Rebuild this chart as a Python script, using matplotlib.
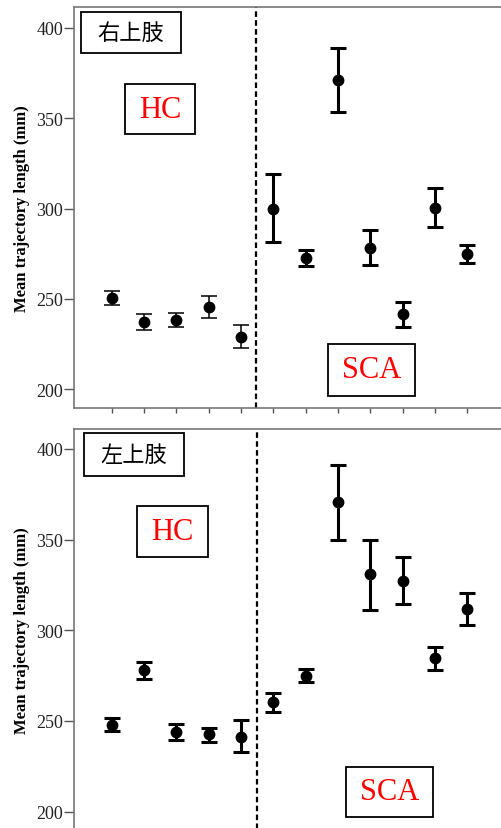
import matplotlib
matplotlib.use('Agg')
import matplotlib.pyplot as plt
from matplotlib.patches import Rectangle
import numpy as np

# subjects 1-5 are HC, 6-12 are SCA
subjects = [1, 2, 3, 4, 5, 6, 7, 8, 9, 10, 11, 12]

# right upper limb (mean, upper end, lower end of bars)
right_mean = [250.4, 237.0, 238.3, 245.2, 229.1, 300.0, 272.6, 371.1, 278.2, 241.7, 300.4, 275.0]
right_high = [254.4, 241.7, 242.0, 251.3, 235.6, 319.3, 276.8, 388.7, 288.0, 248.5, 311.1, 279.6]
right_low = [246.5, 232.8, 234.6, 239.3, 223.0, 281.3, 268.3, 353.2, 268.5, 234.6, 289.6, 269.8]

# left upper limb
left_mean = [248.0, 278.2, 243.8, 242.9, 241.4, 260.4, 275.0, 370.6, 331.1, 327.4, 284.6, 311.8]
left_high = [251.5, 282.4, 248.4, 246.2, 250.6, 265.7, 278.7, 391.4, 350.0, 340.3, 290.7, 320.5]
left_low = [244.4, 273.2, 239.6, 238.6, 232.8, 254.8, 271.4, 349.8, 311.2, 314.6, 278.2, 303.1]

yticks = [200, 250, 300, 350, 400]
n_hc = 5

fig = plt.figure(figsize=(5.02, 8.29), dpi=100)
ax1 = fig.add_axes([0.1474, 0.5066, 0.8546, 0.4837])
ax2 = fig.add_axes([0.1474, -0.0024, 0.8546, 0.4837])

serif = 'Liberation Serif'
cjk = ['Noto Sans CJK JP', 'DejaVu Sans']


def draw_panel(ax, mean, high, low, hc_lw, label, boxes, vline, ylim, show_xaxis):
    x = np.array(subjects)
    m = np.array(mean)
    err = [m - np.array(low), np.array(high) - m]
    # HC group
    ax.errorbar(x[:n_hc], m[:n_hc], yerr=[err[0][:n_hc], err[1][:n_hc]], fmt='o', color='black',
                ms=7.5, elinewidth=hc_lw, capsize=6, capthick=hc_lw)
    # SCA group
    ax.errorbar(x[n_hc:], m[n_hc:], yerr=[err[0][n_hc:], err[1][n_hc:]], fmt='o', color='black',
                ms=7.5, elinewidth=2.2, capsize=5.5, capthick=2.2)
    ax.axvline(vline, color='black', ls=(0, (2.5, 1.5)), lw=1.6)
    ax.set_xlim(-0.17, 13.1)
    ax.set_ylim(*ylim)
    ax.set_yticks(yticks)
    ax.set_yticklabels([str(t) for t in yticks], fontfamily=serif, fontsize=13, color='#222222')
    ax.tick_params(axis='y', length=7, width=1, color='#555555', pad=1)
    ax.set_xticks(subjects)
    ax.set_xticklabels([])
    ax.tick_params(axis='x', length=3.5, width=1, color='#555555')
    for s in ['left', 'top', 'bottom']:
        ax.spines[s].set_color('#777777')
        ax.spines[s].set_linewidth(1.2)
    ax.spines['right'].set_visible(False)
    if not show_xaxis:
        ax.spines['bottom'].set_visible(False)
    ax.set_ylabel('Mean trajectory length (mm)', fontfamily=serif, fontweight='bold',
                  fontsize=12, labelpad=4)

    # text boxes: (x0, y0, x1, y1) in axes fraction
    texts = [(label, cjk, 'black', 16), ('HC', serif, 'red', 22), ('SCA', serif, 'red', 22)]
    for (x0, y0, x1, y1), (txt, fam, col, fs) in zip(boxes, texts):
        ax.add_patch(Rectangle((x0, y0), x1 - x0, y1 - y0, transform=ax.transAxes,
                               facecolor='white', edgecolor='black', lw=1.3, zorder=5))
        ax.text((x0 + x1) / 2, (y0 + y1) / 2, txt, transform=ax.transAxes, ha='center',
                va='center', family=fam, color=col, fontsize=fs, zorder=6)


draw_panel(ax1, right_mean, right_high, right_low, 1.1, '右上肢',
           [(0.0157, 0.8853, 0.2484, 0.9883), (0.1192, 0.6833, 0.2827, 0.8080),
            (0.5928, 0.0307, 0.7951, 0.1596)],
           5.45, (189.5, 411.6), True)
draw_panel(ax2, left_mean, left_high, left_low, 2.2, '左上肢',
           [(0.0234, 0.8836, 0.2563, 0.9893), (0.1479, 0.6815, 0.3114, 0.8080),
            (0.6332, 0.0317, 0.8371, 0.1579)],
           5.5, (189.9, 411.0), False)

fig.savefig('out.png', dpi=100)
